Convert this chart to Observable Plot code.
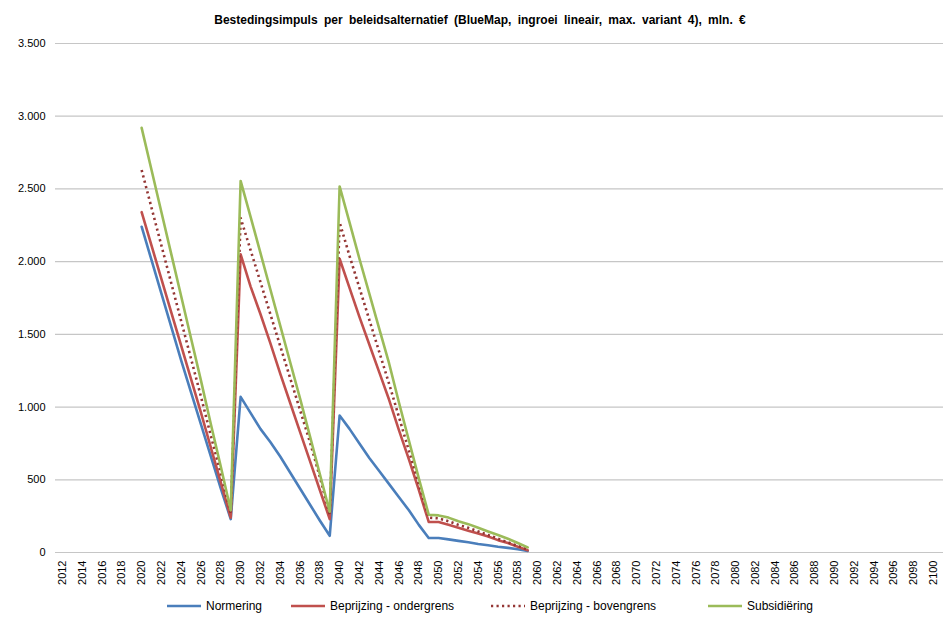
<!DOCTYPE html>
<html>
<head>
<meta charset="utf-8">
<script src="https://cdn.jsdelivr.net/npm/d3@7"></script>
<script src="https://cdn.jsdelivr.net/npm/@observablehq/plot@0.6"></script>
<style>
  body { margin: 0; background: #fff; font-family: "Liberation Sans", Arial, sans-serif; }
  #wrap { position: relative; width: 948px; height: 617px; }
  #title { height: 30px; box-sizing: border-box; padding-top: 13px; padding-left: 12px; line-height: 14px; text-align: center; font-weight: bold; font-size: 12px; color: #000; word-spacing: 3px; }
  #legend { position: absolute; left: 0; top: 596px; width: 948px; height: 20px; font-size: 12px; color: #000; }
  .item { position: absolute; top: 0; height: 20px; line-height: 20px; white-space: nowrap; }
  .item svg { position: absolute; left: 0; top: 0; }
  .item span { position: absolute; top: 0; }
</style>
</head>
<body>
<div id="wrap">
  <div id="title">Bestedingsimpuls per beleidsalternatief (BlueMap, ingroei lineair, max. variant 4), mln. €</div>
  <div id="chart"></div>
  <div id="legend"></div>
</div>
<script>
// Data
const years = d3.range(2020, 2060);
const seriesNames = ["Normering", "Beprijzing - ondergrens", "Beprijzing - bovengrens", "Subsidiëring"];
const normering = [
  2240, 2010, 1780, 1550, 1320, 1100, 880, 660, 440, 230,
  1070, 960, 850, 760, 660, 550, 440, 330, 220, 115,
  942, 850, 750, 650, 560, 470, 380, 290, 190, 100,
  100, 90, 80, 70, 58, 50, 40, 32, 22, 10
];
const ondergrens = [
  2340, 2110, 1880, 1650, 1420, 1190, 960, 720, 480, 240,
  2050, 1830, 1640, 1440, 1230, 1030, 830, 630, 430, 230,
  2020, 1820, 1620, 1430, 1240, 1050, 840, 640, 430, 210,
  210, 190, 170, 150, 130, 110, 85, 65, 40, 15
];
const bovengrens = [
  2630, 2370, 2110, 1850, 1590, 1330, 1070, 800, 540, 270,
  2300, 2080, 1860, 1640, 1420, 1200, 980, 760, 520, 260,
  2270, 2040, 1820, 1600, 1380, 1160, 930, 700, 470, 240,
  235, 215, 190, 170, 145, 120, 95, 70, 45, 20
];
const subsidiering = [
  2920, 2630, 2340, 2050, 1760, 1470, 1180, 880, 590, 290,
  2555, 2310, 2060, 1810, 1560, 1310, 1060, 800, 540, 280,
  2517, 2270, 2020, 1780, 1540, 1300, 1030, 770, 510, 260,
  255, 240, 215, 195, 170, 145, 120, 95, 65, 35
];
const xTicks = d3.range(2012, 2101, 2);
const yTicks = [0, 500, 1000, 1500, 2000, 2500, 3000, 3500];

const seriesValues = [normering, ondergrens, bovengrens, subsidiering];
const colors = ["#4a7ebb", "#c0504d", "#943634", "#9bbb59"];
const dashes = [null, null, "2.2 3.3", null];

const data = seriesNames.map((name, s) => years.map((yr, i) => ({year: yr, value: seriesValues[s][i], series: name})));

const fmt = d => d3.format(",")(d).replace(/,/g, ".");

const chart = Plot.plot({
  width: 948,
  height: 565,
  marginTop: 13,
  marginBottom: 43,
  marginLeft: 57,
  marginRight: 10,
  style: {fontFamily: "'Liberation Sans', Arial, sans-serif", fontSize: "11px", color: "#000", background: "#fff"},
  x: {domain: [2011.5, 2100.5]},
  y: {domain: [0, 3500]},
  marks: [
    Plot.ruleY(yTicks, {stroke: "#c6c6c6", strokeWidth: 1.2, insetLeft: -2, insetRight: -5}),
    Plot.axisY({ticks: yTicks, tickSize: 0, tickPadding: 12, tickFormat: fmt, label: null}),
    Plot.axisX({ticks: xTicks, tickSize: 0, tickPadding: 8, tickRotate: -90, tickFormat: d => String(d), label: null}),
    ...data.map((d, s) => Plot.line(d, {
      x: "year", y: "value", stroke: colors[s], strokeWidth: 2.6,
      strokeDasharray: dashes[s] || undefined,
      strokeLinecap: dashes[s] ? "butt" : "round",
      strokeLinejoin: "round"
    }))
  ]
});
document.getElementById("chart").appendChild(chart);

// Legend
const legendPos = [166, 290, 490, 707];
const legend = document.getElementById("legend");
seriesNames.forEach((name, s) => {
  const item = document.createElement("div");
  item.className = "item";
  item.style.left = legendPos[s] + "px";
  item.innerHTML = `<svg width="36" height="20"><line x1="1" x2="35" y1="10" y2="10" stroke="${colors[s]}" stroke-width="2.6" ${dashes[s] ? `stroke-dasharray="${dashes[s]}"` : ""}/></svg><span style="left:40px">${name}</span>`;
  legend.appendChild(item);
});
</script>
</body>
</html>
